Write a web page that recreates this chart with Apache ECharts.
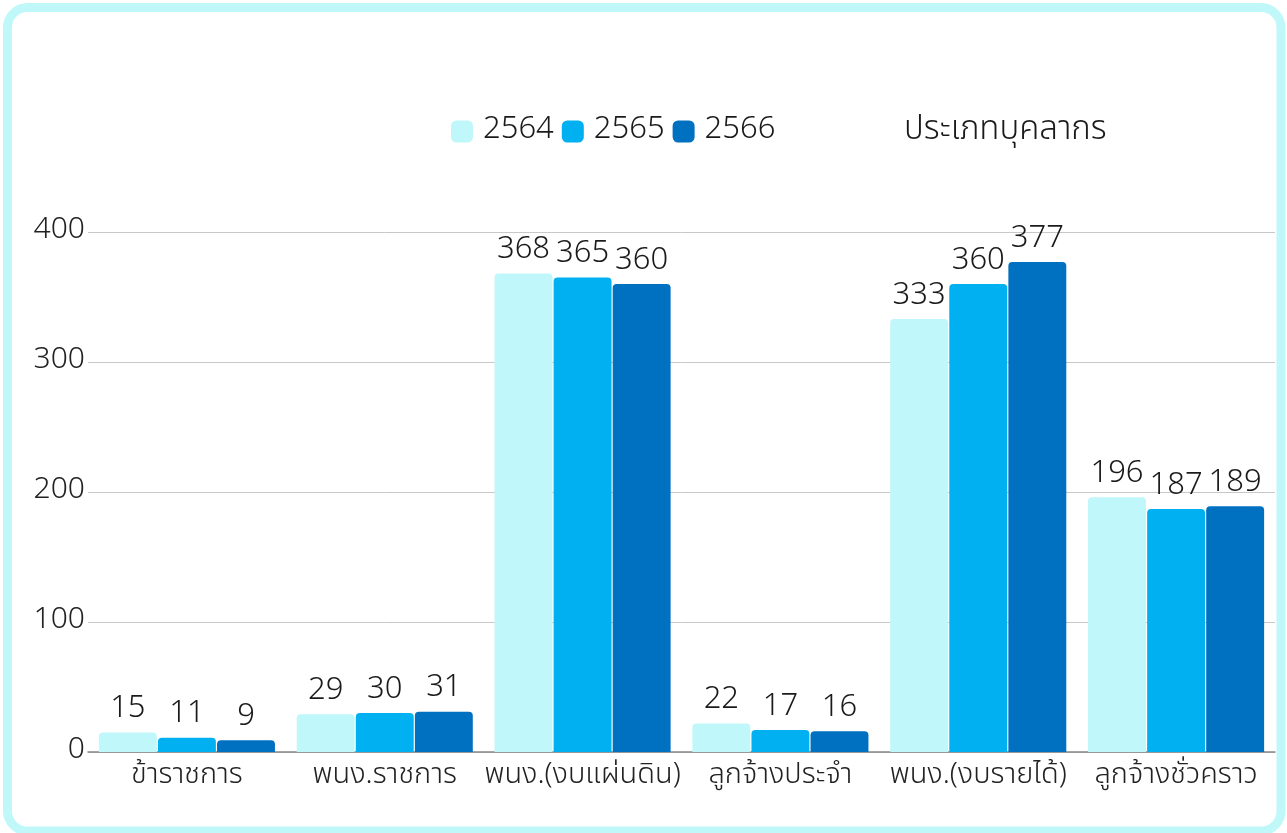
<!DOCTYPE html>
<html>
<head>
<meta charset="utf-8">
<script src="https://cdn.jsdelivr.net/npm/echarts@6/dist/echarts.min.js"></script>
<style>
  html, body { margin: 0; padding: 0; background: #ffffff; }
  #chart { width: 1287px; height: 833px; }
</style>
</head>
<body>
<div id="chart"></div>
<script>
// Personnel counts by type, fiscal years 2564-2566
const categories = ['ข้าราชการ', 'พนง.ราชการ', 'พนง.(งบแผ่นดิน)', 'ลูกจ้างประจำ', 'พนง.(งบรายได้)', 'ลูกจ้างชั่วคราว'];
const years = ['2564', '2565', '2566'];
const values2564 = [15, 29, 368, 22, 333, 196];
const values2565 = [11, 30, 365, 17, 360, 187];
const values2566 = [9, 31, 360, 16, 377, 189];
const yTicks = [0, 100, 200, 300, 400];
const legendTitle = 'ประเภทบุคลากร';

const colors = ['#BFF7FA', '#00B0F0', '#0070C0'];
const font = '"Noto Sans Thai", "Noto Sans", "DejaVu Sans", sans-serif';
const weight = 300;
const seriesValues = [values2564, values2565, values2566];

const chart = echarts.init(document.getElementById('chart'), null, { renderer: 'canvas' });

chart.setOption({
  animation: false,
  backgroundColor: '#ffffff',
  textStyle: { fontFamily: font },
  color: colors,
  graphic: [
    {
      type: 'rect',
      shape: { x: 7.5, y: 7.5, width: 1273.5, height: 823.5, r: 20 },
      style: { fill: 'none', stroke: '#C0F8F9', lineWidth: 9 },
      silent: true,
      z: 100
    },
    {
      type: 'text',
      left: 904,
      top: 116,
      style: { text: legendTitle, fontSize: 33, fill: '#1a1a1a', fontFamily: font, fontWeight: weight },
      silent: true
    }
  ],
  legend: {
    left: 446,
    top: 111,
    itemWidth: 22,
    itemHeight: 22,
    itemGap: 8,
    icon: 'roundRect',
    textStyle: { fontSize: 31, color: '#1a1a1a', fontFamily: font, fontWeight: weight, padding: [0, 0, 0, 5] },
    data: years
  },
  grid: { left: 88, right: 12, top: 232, bottom: 81, containLabel: false },
  xAxis: {
    type: 'category',
    data: categories,
    axisTick: { show: false },
    axisLine: { lineStyle: { color: '#888888', width: 1.5 } },
    axisLabel: { fontSize: 29, color: '#222222', margin: 11, fontFamily: font, fontWeight: weight, interval: 0 }
  },
  yAxis: {
    type: 'value',
    min: 0,
    max: 400,
    interval: 100,
    axisLine: { show: false },
    axisTick: { show: false },
    splitLine: { lineStyle: { color: '#c8c8c8', width: 1 } },
    axisLabel: {
      fontSize: 30, color: '#222222', margin: 3, fontFamily: font, fontWeight: weight,
      formatter: v => (yTicks.includes(v) ? String(v) : '')
    }
  },
  series: years.map((y, i) => ({
    name: y,
    type: 'bar',
    data: seriesValues[i],
    barCategoryGap: '11%',
    barGap: '2%',
    itemStyle: { color: colors[i], borderRadius: [4, 4, 0, 0] },
    label: {
      show: true,
      position: 'top',
      distance: 6,
      fontSize: 31,
      color: '#1a1a1a',
      fontFamily: font,
      fontWeight: weight
    }
  }))
});
</script>
</body>
</html>
